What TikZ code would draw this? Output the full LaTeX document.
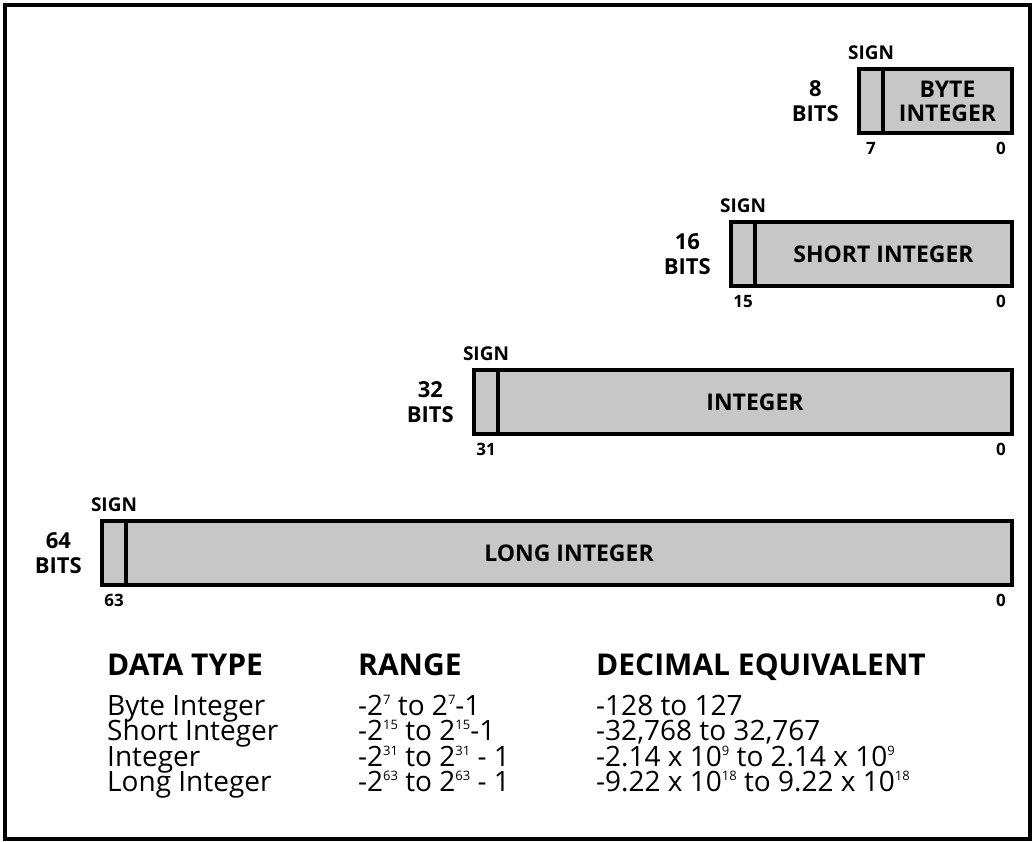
\documentclass[tikz,border=0pt]{standalone}
\usepackage{fontspec}
\setmainfont{Open Sans}
\usetikzlibrary{positioning}

\newcommand\expo[1]{\raisebox{0.38em}{\fontsize{13}{13}\selectfont #1}}

\begin{document}
\begin{tikzpicture}[x=1pt, y=-1pt,
  node distance=9pt and 20pt,
  cell/.style={draw, line width=4.5pt, fill=black!22, minimum height=64pt, inner sep=0pt, outer sep=0pt},
  signcell/.style={cell, minimum width=24pt},
  boxlabel/.style={font=\bfseries\fontsize{23}{24}\selectfont, align=center},
  signtag/.style={font=\bfseries\fontsize{19}{21}\selectfont, inner sep=0pt},
  tag/.style={font=\bfseries\fontsize{17}{19}\selectfont, inner sep=0pt},
  bits/.style={font=\bfseries\fontsize{22}{25}\selectfont, align=center, inner sep=0pt},
  head/.style={font=\bfseries\fontsize{30}{30}\selectfont, anchor=base west, inner sep=0pt},
  entry/.style={font=\fontsize{28}{28}\selectfont, anchor=base west, inner sep=0pt}
]
\useasboundingbox (0,0) rectangle (1035,841);
\draw[line width=4pt] (5,5) rectangle (1030,839);

% byte integer
\node[signcell] (s8) at (871,101) {};
\node[cell, boxlabel, right=0pt of s8, minimum width=129pt] (v8) {BYTE\\INTEGER};
\node[signtag, above=of s8] (sign8) {SIGN};
\node[tag, below=of s8] (msb8) {7};
\node[tag, below left=9pt and 6pt of v8.south east] (lsb8) {0};
\node[bits, left=of s8] (bits8) {8\\BITS};

% short integer
\node[signcell] (s16) at (743,254) {};
\node[cell, boxlabel, right=0pt of s16, minimum width=257pt] (v16) {SHORT INTEGER};
\node[signtag, above=of s16] (sign16) {SIGN};
\node[tag, below=of s16] (msb16) {15};
\node[tag, below left=9pt and 6pt of v16.south east] (lsb16) {0};
\node[bits, left=of s16] (bits16) {16\\BITS};

% integer
\node[signcell] (s32) at (486,402) {};
\node[cell, boxlabel, right=0pt of s32, minimum width=514pt] (v32) {INTEGER};
\node[signtag, above=of s32] (sign32) {SIGN};
\node[tag, below=of s32] (msb32) {31};
\node[tag, below left=9pt and 6pt of v32.south east] (lsb32) {0};
\node[bits, left=of s32] (bits32) {32\\BITS};

% long integer
\node[signcell] (s64) at (114,553) {};
\node[cell, boxlabel, right=0pt of s64, minimum width=886pt] (v64) {LONG INTEGER};
\node[signtag, above=of s64] (sign64) {SIGN};
\node[tag, below=of s64] (msb64) {63};
\node[tag, below left=9pt and 6pt of v64.south east] (lsb64) {0};
\node[bits, left=of s64] (bits64) {64\\BITS};

% table of ranges
\node[head] (hdtype) at (107,675) {DATA TYPE};
\node[head] (hrange) at (358,675) {RANGE};
\node[head] (hdec) at (596,675) {DECIMAL EQUIVALENT};

\node[entry] (t8) at (107,715) {Byte Integer};
\node[entry] (r8) at (358,715) {-2\expo{7} to 2\expo{7}-1};
\node[entry] (d8) at (596,715) {-128 to 127};

\node[entry] (t16) at (107,740.5) {Short Integer};
\node[entry] (r16) at (358,740.5) {-2\expo{15} to 2\expo{15}-1};
\node[entry] (d16) at (596,740.5) {-32,768 to 32,767};

\node[entry] (t32) at (107,766) {Integer};
\node[entry] (r32) at (358,766) {-2\expo{31} to 2\expo{31} - 1};
\node[entry] (d32) at (596,766) {-2.14 x 10\expo{9} to 2.14 x 10\expo{9}};

\node[entry] (t64) at (107,791.5) {Long Integer};
\node[entry] (r64) at (358,791.5) {-2\expo{63} to 2\expo{63} - 1};
\node[entry] (d64) at (596,791.5) {-9.22 x 10\expo{18} to 9.22 x 10\expo{18}};
\end{tikzpicture}
\end{document}
